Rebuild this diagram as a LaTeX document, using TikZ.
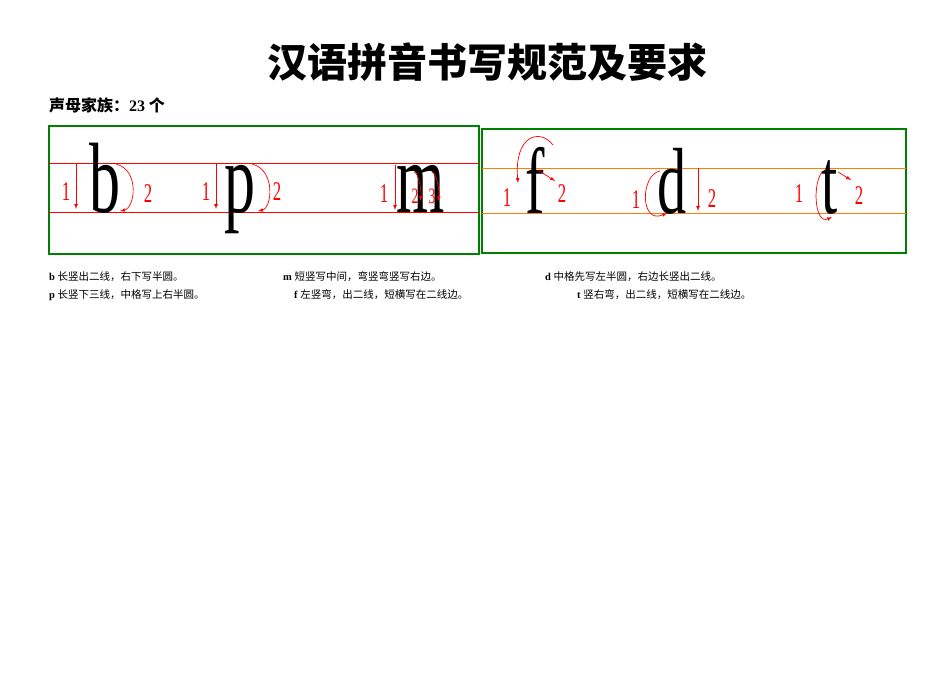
\documentclass[tikz,border=0pt]{standalone}
\usepackage{fontspec}
\usepackage{graphicx}
\setmainfont{Liberation Serif}
\newfontfamily\cjk{Noto Sans CJK SC}
\newcommand{\narrowtxt}[1]{\scalebox{0.62}[1]{#1}}
\begin{document}
\begin{tikzpicture}[x=1pt,y=-1pt,
  big/.style={font=\fontsize{100}{100}\selectfont,inner sep=0,anchor=base},
  bigr/.style={font=\fontsize{94}{94}\selectfont,inner sep=0,anchor=base},
  num/.style={font=\fontsize{27}{27}\selectfont,text=red,inner sep=0,anchor=base},
  captxt/.style={font=\fontsize{10.5}{11}\selectfont,inner sep=0,anchor=base west},
  stroke/.style={red,line width=0.7pt,-latex},
  frame/.style={draw=green!50!black,line width=1.2pt}]
\useasboundingbox[fill=white] (0,0) rectangle (950,672);
\node[font=\cjk\bfseries\fontsize{40}{40}\selectfont,inner sep=0] (title) at (487,62) {汉语拼音书写规范及要求};
\node[font=\cjk\bfseries\fontsize{16}{16}\selectfont,inner sep=0,anchor=west] (fam) at (49,105) {声母家族：{\rmfamily\bfseries 23} 个};
% left box
\draw[frame] (49,126) rectangle (479,254);
\draw[red,line width=1pt] (49,163) -- (479,163) (49,212) -- (479,212);
% right box
\draw[frame] (482,129) rectangle (906,253);
\draw[orange,line width=1pt] (482,168) -- (906,168) (482,213) -- (906,213);
% letters
\node[big] (b) at (105,212) {\narrowtxt{b}};
\node[big] (p) at (240,212) {\narrowtxt{p}};
\node[big] (m) at (421,212) {\narrowtxt{m}};
\node[bigr] (f) at (535,213) {\narrowtxt{f}};
\node[bigr] (d) at (672,213) {\narrowtxt{d}};
\node[bigr] (t) at (830,213) {\narrowtxt{t}};
% numbers
\node[num] (b1) at (66,200) {\narrowtxt{1}};
\node[num] (b2) at (148,202) {\narrowtxt{2}};
\node[num] (p1) at (206,200) {\narrowtxt{1}};
\node[num] (p2) at (277,200) {\narrowtxt{2}};
\node[num] (m1) at (384,202) {\narrowtxt{1}};
\node[num,font=\fontsize{22}{22}\selectfont] (m2) at (415,203) {\narrowtxt{2}};
\node[num,font=\fontsize{22}{22}\selectfont] (m3) at (432,203) {\narrowtxt{3}};
\node[num] (f1) at (507,206) {\narrowtxt{1}};
\node[num] (f2) at (562,202) {\narrowtxt{2}};
\node[num] (d1) at (636,208) {\narrowtxt{1}};
\node[num] (d2) at (712,207) {\narrowtxt{2}};
\node[num] (t1) at (799,202) {\narrowtxt{1}};
\node[num] (t2) at (859,204) {\narrowtxt{2}};
% strokes
\draw[stroke] (76,163) -- (76,209);
\draw[stroke] (116,164) .. controls (140,170) and (135,208) .. (120,211);
\draw[stroke] (216,163) -- (216,209);
\draw[stroke] (252,164) .. controls (276,170) and (272,208) .. (258,211);
\draw[stroke] (395,165) -- (395,210);
\draw[stroke] (414,172) .. controls (418,172) and (422,190) .. (420,201);
\draw[stroke] (432,172) .. controls (436,172) and (440,190) .. (438,201);
\draw[stroke] (553,145) .. controls (540,128) and (514,135) .. (518,183);
\draw[stroke] (538,170) -- (555,181);
\draw[stroke] (660,171) .. controls (640,175) and (640,225) .. (667,213);
\draw[stroke] (698,168) -- (698,211);
\draw[stroke] (822,172) .. controls (812,185) and (815,225) .. (832,217);
\draw[stroke] (838,172) -- (851,180);
% captions
\node[captxt] (c1) at (49,280) {\textbf{b} \cjk 长竖出二线，右下写半圆。};
\node[captxt] (c2) at (283,280) {\textbf{m} \cjk 短竖写中间，弯竖弯竖写右边。};
\node[captxt] (c3) at (545,280) {\textbf{d} \cjk 中格先写左半圆，右边长竖出二线。};
\node[captxt] (c4) at (49,298) {\textbf{p} \cjk 长竖下三线，中格写上右半圆。};
\node[captxt] (c5) at (294,298) {\textbf{f} \cjk 左竖弯，出二线，短横写在二线边。};
\node[captxt] (c6) at (577,298) {\textbf{t} \cjk 竖右弯，出二线，短横写在二线边。};
\end{tikzpicture}
\end{document}
